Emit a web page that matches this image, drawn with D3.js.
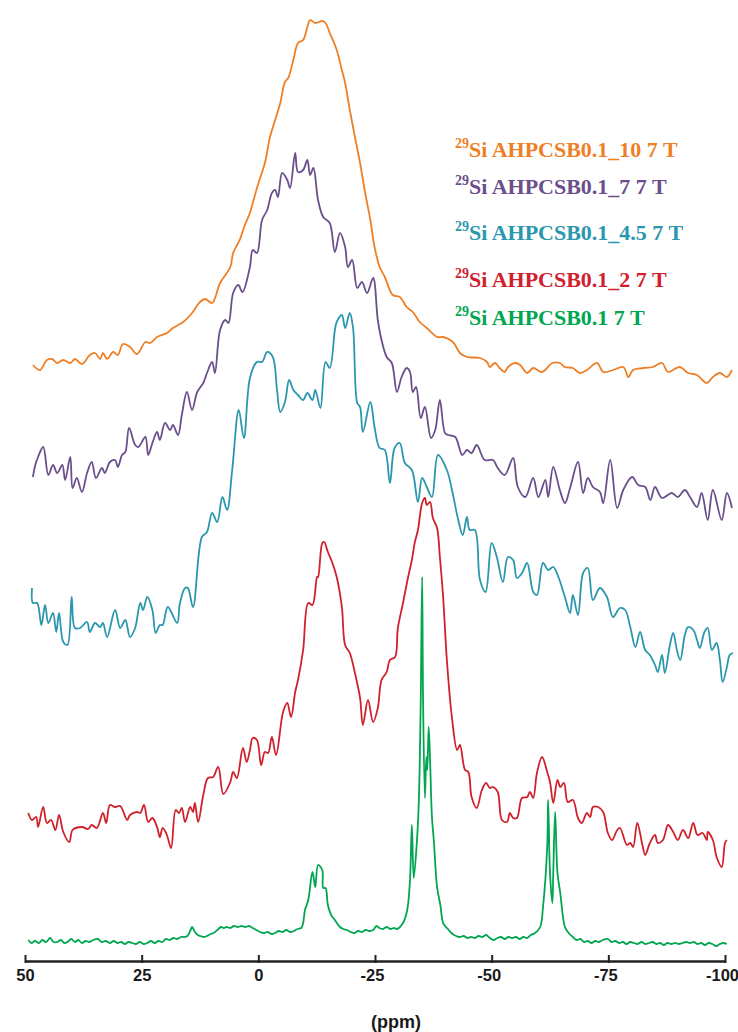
<!DOCTYPE html>
<html>
<head>
<meta charset="utf-8">
<script src="https://cdn.jsdelivr.net/npm/d3@7"></script>
<style>
  html, body { margin: 0; padding: 0; background: #ffffff; }
  svg { display: block; }
</style>
</head>
<body>
<div id="chart"></div>
<script>
// ---------------- DATA ----------------
// x: chemical shift (ppm); y: displayed intensity (stacked, arbitrary units)
const tickValues = [50, 25, 0, -25, -50, -75, -100];
const axisLabel = "(ppm)";

const seriesNames = ["AHPCSB0.1_10 7 T", "AHPCSB0.1_7 7 T", "AHPCSB0.1_4.5 7 T", "AHPCSB0.1_2 7 T", "AHPCSB0.1 7 T"];
const seriesColors = ["#EE7F26", "#6A4F8C", "#2A97AE", "#D0202C", "#00A650"];
const nucleus = "29";

const ppm10 = [48.3,46.8,45.3,44.2,43.1,41.8,40.3,39.3,37.8,36.1,35.0,33.9,33.3,32.4,31.1,30.1,29.0,27.5,26.0,24.2,23.2,21.7,19.6,18.3,16.1,14.2,12.5,11.4,9.9,8.2,6.0,5.4,4.0,2.9,1.8,1.2,0.1,-1.4,-2.5,-3.6,-4.7,-5.7,-6.4,-7.5,-8.5,-9.6,-10.5,-11.1,-12.2,-13.7,-14.4,-15.3,-16.8,-17.9,-18.6,-19.6,-20.7,-21.8,-22.9,-24.0,-24.9,-26.0,-27.1,-28.8,-30.3,-31.8,-33.1,-34.6,-36.1,-38.3,-39.6,-41.7,-43.2,-44.7,-47.5,-49.0,-49.6,-50.7,-51.7,-52.8,-53.5,-55.0,-56.1,-57.6,-58.9,-60.8,-63.0,-64.6,-65.7,-67.4,-68.9,-70.4,-72.6,-73.9,-76.0,-78.2,-79.3,-80.3,-82.5,-84.5,-86.5,-87.8,-90.3,-92.1,-94.0,-96.1,-97.4,-98.9,-100.4,-101.5];
const int10 = [580,575,585,586,582,585,582,586,581,590,592,586,592,586,593,590,601,598,591,603,602,608,612,617,623,632,643,646,642,662,678,692,705,720,732,742,760,782,808,825,842,863,867,885,902,905,918,925,922,924,922,912,895,875,862,835,808,782,752,725,698,678,668,650,648,638,633,623,617,608,608,603,592,588,587,583,578,582,577,573,578,582,580,572,577,573,582,582,578,577,572,575,582,573,575,578,568,575,577,578,582,573,578,572,570,562,568,572,568,575];

const ppm7 = [48.3,47.8,47.2,46.1,45.0,44.0,43.1,42.0,41.4,40.3,39.8,38.9,37.8,36.7,35.7,34.8,33.5,32.9,31.8,30.7,30.1,29.2,28.5,27.7,26.4,25.7,24.2,23.6,22.7,21.7,21.1,20.0,18.9,18.3,17.2,16.4,15.3,14.2,13.1,11.8,11.0,9.9,9.3,8.2,7.1,6.4,5.4,4.3,3.4,1.8,1.2,0.3,-0.8,-1.9,-2.9,-3.6,-4.2,-5.1,-6.2,-6.8,-7.9,-8.5,-9.6,-10.5,-11.1,-11.8,-12.8,-13.9,-15.3,-16.4,-17.5,-18.6,-19.2,-20.1,-21.2,-22.2,-23.3,-24.6,-25.6,-26.4,-27.5,-28.6,-29.7,-30.7,-31.8,-32.5,-33.1,-33.8,-34.8,-35.7,-37.0,-37.9,-38.9,-40.0,-40.7,-42.2,-43.7,-44.7,-45.7,-46.8,-48.5,-50.3,-51.3,-52.8,-54.6,-55.6,-57.2,-58.9,-60.0,-61.5,-62.1,-63.2,-64.6,-65.7,-66.8,-68.5,-69.6,-70.6,-71.7,-73.2,-73.9,-75.4,-76.9,-78.2,-80.1,-81.4,-82.9,-84.0,-85.0,-86.5,-88.6,-89.9,-91.4,-92.5,-94.0,-95.0,-96.3,-97.4,-99.3,-100.4,-101.5];
const int7 = [468,480,488,498,470,480,472,480,465,488,457,467,453,472,483,467,477,472,483,485,478,490,493,517,500,498,508,490,502,513,505,522,515,520,510,530,553,535,553,562,572,583,572,615,625,622,652,660,653,678,695,692,725,735,752,755,748,772,765,757,792,773,775,785,770,777,745,728,722,693,712,698,678,685,657,663,652,667,625,605,588,582,553,568,577,573,553,558,527,538,507,515,545,512,510,508,490,495,492,500,485,485,477,470,487,458,448,467,448,465,448,478,455,442,457,483,452,467,458,453,442,485,437,455,468,460,458,445,458,447,452,448,455,448,438,452,425,455,425,452,437];

const ppm45 = [48.5,48.3,47.4,46.5,45.7,45.0,44.0,43.3,42.7,41.8,40.9,40.0,39.3,38.2,36.7,36.1,35.0,33.9,33.3,32.4,30.7,29.6,28.5,27.5,26.4,25.3,24.7,23.8,22.7,22.0,21.1,20.5,19.4,17.4,16.8,15.7,15.1,14.0,12.1,11.0,9.9,8.8,7.7,6.7,5.6,4.2,3.1,1.8,0.3,-0.8,-1.9,-3.1,-4.0,-4.7,-5.7,-6.6,-7.5,-8.5,-9.6,-10.5,-11.6,-12.2,-13.3,-14.4,-15.3,-16.4,-16.8,-17.9,-18.6,-19.6,-20.3,-21.2,-21.8,-22.4,-24.0,-24.9,-26.0,-27.1,-28.2,-29.2,-30.3,-31.4,-32.9,-34.2,-35.1,-36.1,-37.2,-38.5,-40.4,-41.5,-42.7,-43.8,-44.7,-45.3,-46.4,-47.5,-48.7,-50.0,-51.1,-52.4,-53.5,-54.6,-55.4,-56.5,-57.6,-58.9,-59.7,-61.0,-62.1,-63.2,-64.3,-65.7,-66.8,-67.4,-68.5,-69.6,-70.6,-71.7,-73.2,-74.7,-76.0,-77.5,-78.6,-79.7,-80.8,-81.8,-82.9,-83.9,-85.0,-85.6,-86.5,-87.1,-88.2,-88.9,-89.7,-90.4,-91.4,-92.1,-93.2,-94.0,-94.6,-95.6,-96.3,-97.2,-98.2,-98.9,-99.5,-100.4,-101.0,-101.7];
const int45 = [357,342,342,320,340,322,332,313,332,303,300,348,317,317,323,313,322,318,322,308,335,317,325,308,317,342,335,348,335,312,320,320,338,322,342,357,357,338,408,413,432,423,448,435,475,535,507,567,583,583,593,588,555,533,543,565,555,550,545,552,545,555,537,583,577,615,623,630,617,632,617,542,538,513,543,518,497,495,462,497,502,482,475,443,467,458,448,490,475,455,428,410,428,415,415,365,353,402,388,363,388,385,367,372,382,353,350,382,375,378,368,348,332,350,330,372,377,345,357,348,328,337,335,318,298,313,295,290,280,273,290,272,300,312,295,285,310,318,315,305,297,313,317,295,302,285,263,278,290,292];

const ppm2 = [49.3,48.5,47.6,47.2,46.1,45.3,44.4,43.5,42.7,41.8,40.5,39.8,37.8,36.5,35.7,34.6,33.3,32.6,31.8,30.7,29.6,28.1,27.5,26.0,25.3,24.5,23.6,22.7,21.7,21.1,20.5,19.6,18.7,17.7,17.0,16.4,15.7,14.6,14.0,13.6,12.9,11.8,10.8,9.7,8.6,7.5,6.0,5.4,4.6,3.3,2.5,1.8,1.2,0.3,-0.6,-1.4,-2.1,-2.9,-3.8,-5.3,-6.2,-7.0,-7.9,-8.5,-9.6,-10.7,-11.6,-12.6,-12.8,-13.7,-14.1,-14.9,-15.8,-16.8,-17.9,-18.6,-19.6,-20.7,-21.8,-22.4,-23.5,-24.6,-25.6,-26.4,-27.5,-28.2,-29.3,-29.9,-31.0,-32.1,-32.9,-33.5,-34.2,-35.1,-35.7,-36.1,-36.8,-37.4,-38.3,-38.9,-39.6,-40.4,-41.5,-42.6,-43.2,-44.3,-45.0,-45.7,-46.8,-47.9,-48.8,-49.6,-50.3,-51.3,-52.2,-53.3,-53.9,-54.6,-55.4,-56.5,-57.6,-58.2,-58.9,-59.7,-60.8,-61.9,-62.5,-63.2,-64.1,-64.7,-65.5,-66.3,-67.4,-68.5,-69.3,-70.4,-71.1,-71.7,-72.8,-73.9,-74.9,-75.8,-76.9,-77.5,-79.0,-79.7,-80.3,-81.2,-82.3,-82.9,-83.9,-85.0,-85.6,-86.7,-87.8,-88.9,-89.9,-91.0,-92.1,-93.2,-94.1,-95.2,-96.1,-96.3,-97.4,-98.2,-99.3,-100.0,-100.4];
const int2 = [132,125,128,118,138,122,125,115,130,113,103,115,118,116,120,117,132,122,140,138,139,125,130,133,132,140,123,127,118,108,117,110,97,135,132,137,123,138,133,142,123,150,167,168,178,151,163,173,167,197,183,195,207,205,180,193,192,208,190,233,242,228,253,265,295,342,340,368,368,402,403,393,383,368,338,300,292,272,247,220,245,223,237,265,273,285,288,317,342,368,385,402,415,442,447,440,443,427,417,388,348,285,227,195,200,175,173,148,137,155,162,157,158,153,125,123,132,127,127,147,148,153,147,172,188,173,163,142,165,158,162,143,145,127,122,132,128,138,138,133,112,105,115,117,100,102,98,122,100,90,102,110,102,105,120,113,105,115,107,122,110,112,105,113,105,88,78,102,105];

const ppm0 = [49.3,48.6,47.9,47.0,46.3,45.5,44.6,43.9,43.1,42.3,41.6,40.9,40.1,39.3,38.6,37.8,37.0,36.2,35.4,34.4,33.6,32.7,31.8,31.0,30.2,29.4,28.6,27.8,27.0,26.2,25.4,24.6,23.8,23.0,22.2,21.4,20.6,19.8,19.0,18.2,17.4,16.6,15.8,15.2,14.6,14.2,13.6,13.0,12.4,11.6,11.0,10.2,9.6,8.8,8.0,7.4,6.8,6.0,5.2,4.4,3.6,2.8,2.0,1.2,0.4,-0.4,-1.2,-2.0,-2.8,-3.6,-4.4,-5.2,-6.0,-6.8,-7.6,-8.4,-9.2,-9.6,-10.0,-10.7,-11.6,-12.2,-12.8,-13.7,-13.9,-14.4,-14.9,-15.6,-16.4,-17.5,-18.2,-19.0,-19.8,-20.6,-21.4,-22.2,-23.0,-23.8,-24.6,-25.3,-25.9,-26.7,-27.5,-28.3,-29.1,-29.7,-31.0,-31.9,-32.5,-32.9,-33.3,-34.0,-34.4,-34.8,-35.1,-35.3,-35.7,-36.0,-36.2,-36.5,-36.8,-37.2,-37.6,-38.3,-39.0,-39.6,-40.2,-40.8,-41.6,-42.4,-43.2,-44.0,-44.8,-45.6,-46.4,-47.2,-48.0,-48.8,-49.6,-50.4,-51.2,-52.0,-52.8,-53.6,-54.4,-55.2,-56.0,-56.8,-57.6,-58.4,-59.3,-60.4,-61.0,-61.9,-62.1,-62.5,-63.0,-63.2,-63.6,-64.1,-64.7,-65.7,-66.5,-67.4,-68.2,-69.0,-69.8,-70.6,-71.4,-72.2,-73.0,-73.8,-74.9,-75.7,-76.5,-77.3,-78.1,-78.9,-79.7,-80.5,-81.3,-82.1,-82.9,-83.7,-84.5,-85.3,-86.1,-86.9,-87.7,-88.5,-89.3,-90.1,-90.9,-91.7,-92.5,-93.3,-94.1,-94.9,-95.7,-96.5,-97.3,-98.1,-98.9,-99.6,-100.4];
const int0 = [5,2,4,2,5,3,7,3,3,5,2,3,6,3,5,2,4,3,5,6,3,4,2,4,2,3,1,3,2,1,3,1,2,4,2,4,3,6,5,7,6,8,8,9,14,18,13,10,9,8,9,11,12,15,18,17,18,17,19,18,19,18,19,17,15,13,12,13,11,12,14,13,15,13,14,16,17,22,35,45,73,58,80,75,57,57,40,30,25,18,16,15,13,12,14,13,15,14,15,19,17,16,18,16,17,16,22,35,65,120,67,105,145,245,368,245,147,188,175,218,185,128,105,58,40,22,18,15,11,9,8,9,7,8,7,9,8,10,7,5,7,8,6,8,7,8,6,8,7,10,12,18,38,98,145,72,42,72,133,72,52,18,12,8,5,6,3,4,2,4,3,5,6,3,4,2,3,1,3,2,1,3,1,2,3,1,2,0,2,1,2,1,2,3,2,3,1,2,0,2,1,-1,1,2,1];

const seriesPpm = [ppm10, ppm7, ppm45, ppm2, ppm0];
const seriesInt = [int10, int7, int45, int2, int0];

// ---------------- DRAWING ----------------
const W = 738, H = 1032;
const svg = d3.select("#chart").append("svg").attr("width", W).attr("height", H);

const x = d3.scaleLinear().domain([50, -100]).range([25, 725]);
const y = d3.scaleLinear().domain([0, 945]).range([945, 0]);

const line = d3.line()
  .x(d => x(d[0]))
  .y(d => y(d[1]))
  .curve(d3.curveCatmullRom.alpha(0.5));

seriesPpm.forEach((p, i) => {
  const pts = p.map((v, j) => [v, seriesInt[i][j]]);
  svg.append("path")
    .datum(pts)
    .attr("d", line)
    .attr("fill", "none")
    .attr("stroke", seriesColors[i])
    .attr("stroke-width", 1.8)
    .attr("stroke-linejoin", "round");
});

// axis
const axis = d3.axisBottom(x)
  .tickValues(tickValues)
  .tickFormat(d => String(d))
  .tickSizeInner(-6)
  .tickSizeOuter(0)
  .tickPadding(8);
const gAxis = svg.append("g").attr("transform", "translate(0,961)").call(axis);
gAxis.select(".domain").attr("stroke", "#222").attr("stroke-width", 2.6);
gAxis.selectAll(".tick line").attr("stroke", "#222").attr("stroke-width", 2).attr("y1", 2);
gAxis.selectAll(".tick text")
  .attr("fill", "#1a1a1a")
  .attr("dx", d => d < 0 ? -3 : 0)
  .style("font-family", "'Liberation Sans', Arial, sans-serif")
  .style("font-weight", "bold")
  .style("font-size", "16.5px");

svg.append("text")
  .attr("x", 396).attr("y", 1028)
  .attr("text-anchor", "middle")
  .style("font-family", "'Liberation Sans', Arial, sans-serif")
  .style("font-weight", "bold")
  .style("font-size", "18px")
  .attr("fill", "#1a1a1a")
  .text(axisLabel);

// legend
const legendY = [157, 194, 240, 287, 325];
seriesNames.forEach((name, i) => {
  const t = svg.append("text")
    .attr("x", 455).attr("y", legendY[i])
    .attr("fill", seriesColors[i])
    .style("font-family", "'Liberation Serif', 'Times New Roman', serif")
    .style("font-weight", "bold")
    .style("font-size", "22px");
  t.append("tspan").attr("dy", -9).style("font-size", "14px").text(nucleus);
  t.append("tspan").attr("dy", 9).text("Si " + name);
});
</script>
</body>
</html>
